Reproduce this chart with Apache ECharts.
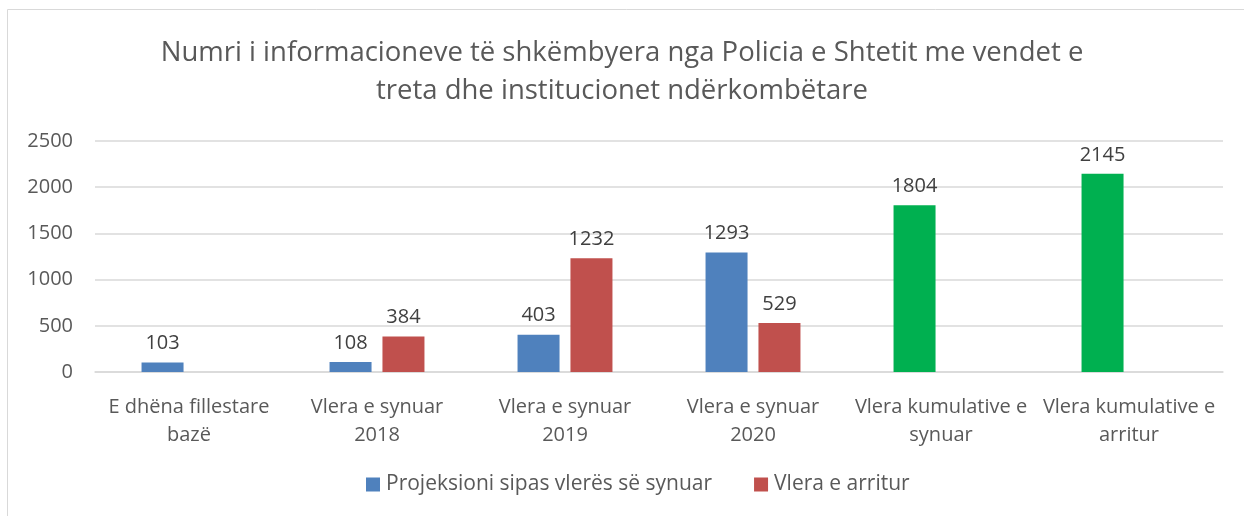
<!DOCTYPE html>
<html>
<head>
<meta charset="utf-8">
<script src="https://cdn.jsdelivr.net/npm/echarts@6/dist/echarts.min.js"></script>
<style>
  html, body { margin: 0; padding: 0; background: #fff; }
  #main { width: 1244px; height: 516px; }
</style>
</head>
<body>
<div id="main"></div>
<script>
var titleText = 'Numri i informacioneve të shkëmbyera nga Policia e Shtetit me vendet e\ntreta dhe institucionet ndërkombëtare';
var categories = ['E dhëna fillestare\nbazë', 'Vlera e synuar\n2018', 'Vlera e synuar\n2019', 'Vlera e synuar\n2020', 'Vlera kumulative e\nsynuar', 'Vlera kumulative e\narritur'];
var seriesNames = ['Projeksioni sipas vlerës së synuar', 'Vlera e arritur'];
var projeksioni = [103, 108, 403, 1293, 1804, 2145];
var arritur = [null, 384, 1232, 529, null, null];
// the two cumulative bars are drawn green in the reference
var greenIdx = [4, 5];

var BLUE = '#4F81BD', RED = '#C0504D', GREEN = '#00B050';
var FONT = 'Open Sans';

var chart = echarts.init(document.getElementById('main'));

var blueData = projeksioni.map(function (v, i) {
    if (greenIdx.indexOf(i) >= 0) {
        return { value: v, itemStyle: { color: GREEN } };
    }
    return v;
});

var labelStyle = {
    show: true,
    position: 'top',
    distance: 9,
    color: '#404040',
    fontSize: 20,
    fontFamily: FONT
};

chart.setOption({
    animation: false,
    textStyle: { fontFamily: FONT },
    graphic: [{
        type: 'rect',
        shape: { x: 7.5, y: 9.5, width: 1260, height: 520 },
        style: { fill: 'none', stroke: '#d9d9d9', lineWidth: 1 },
        silent: true,
        z: -1
    }],
    title: {
        text: titleText,
        left: 'center',
        top: 29,
        textStyle: {
            color: '#595959',
            fontSize: 27.5,
            fontWeight: 'normal',
            fontFamily: FONT,
            lineHeight: 38
        }
    },
    legend: {
        bottom: 16,
        left: 361,
        itemWidth: 14,
        itemHeight: 14,
        itemGap: 42,
        icon: 'rect',
        data: seriesNames,
        textStyle: { color: '#595959', fontSize: 21, fontFamily: FONT, padding: [0, 0, 0, 1] }
    },
    grid: {
        left: 95,
        right: 21,
        top: 141,
        bottom: 144
    },
    xAxis: {
        type: 'category',
        data: categories,
        axisLine: { lineStyle: { color: '#d9d9d9', width: 1.5 } },
        axisTick: { show: false },
        axisLabel: {
            color: '#595959',
            fontSize: 20,
            fontFamily: FONT,
            lineHeight: 28,
            margin: 21,
            interval: 0
        }
    },
    yAxis: {
        type: 'value',
        min: 0,
        max: 2500,
        interval: 500,
        axisLine: { show: false },
        axisTick: { show: false },
        splitLine: { lineStyle: { color: '#d9d9d9', width: 1.5 } },
        axisLabel: {
            color: '#595959',
            fontSize: 20,
            fontFamily: FONT,
            margin: 22,
            formatter: function (v) { return String(v); }
        }
    },
    series: [{
        name: seriesNames[0],
        type: 'bar',
        data: blueData,
        barWidth: 42,
        barGap: '26%',
        itemStyle: { color: BLUE },
        label: labelStyle
    }, {
        name: seriesNames[1],
        type: 'bar',
        data: arritur,
        barWidth: 42,
        itemStyle: { color: RED },
        label: labelStyle
    }]
});
</script>
</body>
</html>
